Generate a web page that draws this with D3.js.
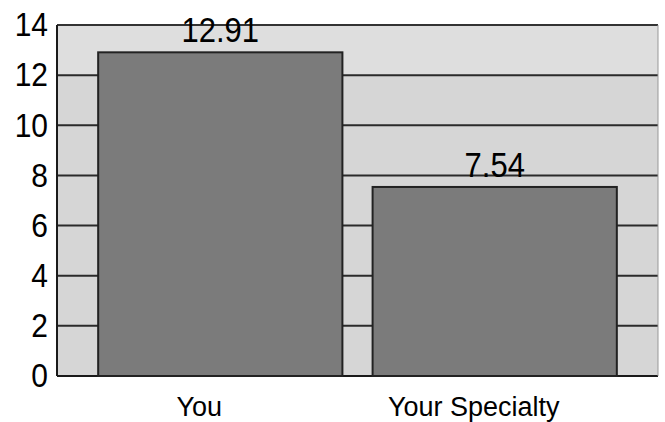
<!DOCTYPE html>
<html>
<head>
<meta charset="utf-8">
<script src="https://cdn.jsdelivr.net/npm/d3@7/dist/d3.min.js"></script>
<style>
  html, body { margin: 0; padding: 0; background: #fff; }
  svg { display: block; }
  text { font-family: "Liberation Sans", Arial, sans-serif; fill: #000; }
</style>
</head>
<body>
<svg id="chart" width="665" height="422"></svg>
<script>
const categories = ["You", "Your Specialty"];
const values = [12.91, 7.54];
const valueLabels = ["12.91", "7.54"];
const yTicks = [0, 2, 4, 6, 8, 10, 12, 14];

const W = 665, H = 422;
const m = { top: 25, right: 7, bottom: 46, left: 57 };
const svg = d3.select("#chart");

const x = d3.scaleBand()
  .domain(categories)
  .range([m.left, W - m.right])
  .paddingInner(0.11)
  .paddingOuter(0.15);

const y = d3.scaleLinear()
  .domain([0, 14])
  .range([H - m.bottom, m.top]);

// plot background
svg.append("rect")
  .attr("x", x.range()[0])
  .attr("y", y(14))
  .attr("width", x.range()[1] - x.range()[0])
  .attr("height", y(0) - y(14))
  .attr("fill", "#d6d6d6");
// lighter top band
svg.append("rect")
  .attr("x", x.range()[0])
  .attr("y", y(14))
  .attr("width", x.range()[1] - x.range()[0])
  .attr("height", y(12) - y(14))
  .attr("fill", "#dedede");

// gridlines
svg.append("g")
  .selectAll("line")
  .data(yTicks.filter(d => d > 0 && d < 14))
  .join("line")
  .attr("x1", x.range()[0])
  .attr("x2", x.range()[1])
  .attr("y1", d => y(d))
  .attr("y2", d => y(d))
  .attr("stroke", "#2a2a2a")
  .attr("stroke-width", 2);

// frame
svg.append("line")
  .attr("x1", x.range()[0]).attr("x2", x.range()[1])
  .attr("y1", y(14)).attr("y2", y(14))
  .attr("stroke", "#333").attr("stroke-width", 2);
svg.append("line")
  .attr("x1", x.range()[0]).attr("x2", x.range()[0])
  .attr("y1", y(14)).attr("y2", y(0))
  .attr("stroke", "#1a1a1a").attr("stroke-width", 2);
svg.append("line")
  .attr("x1", x.range()[0]).attr("x2", x.range()[1])
  .attr("y1", y(0)).attr("y2", y(0))
  .attr("stroke", "#1a1a1a").attr("stroke-width", 2);
svg.append("line")
  .attr("x1", x.range()[1]).attr("x2", x.range()[1])
  .attr("y1", y(14)).attr("y2", y(0))
  .attr("stroke", "#999").attr("stroke-width", 1);

// bars
svg.append("g")
  .selectAll("rect")
  .data(categories)
  .join("rect")
  .attr("x", d => x(d))
  .attr("y", (d, i) => y(values[i]))
  .attr("width", x.bandwidth())
  .attr("height", (d, i) => y(0) - y(values[i]))
  .attr("fill", "#7b7b7b")
  .attr("stroke", "#222")
  .attr("stroke-width", 2);

// value labels
svg.append("g")
  .selectAll("text")
  .data(categories)
  .join("text")
  .attr("transform", (d, i) => `translate(${x(d) + x.bandwidth() / 2},${y(values[i]) - 10}) scale(1,1.13)`)
  .attr("text-anchor", "middle")
  .style("font-size", "31px")
  .text((d, i) => valueLabels[i]);

// y axis
const yAxis = svg.append("g")
  .attr("transform", `translate(${m.left},0)`)
  .call(d3.axisLeft(y).tickValues(yTicks).tickSize(0).tickPadding(9).tickFormat(d3.format("d")));
yAxis.select(".domain").remove();
yAxis.selectAll("text")
  .style("font-size", "30px")
  .attr("fill", "#000")
  .attr("transform", "scale(1,1.12)");

// x axis
const xAxis = svg.append("g")
  .attr("transform", `translate(-21,${y(0)})`)
  .call(d3.axisBottom(x).tickSize(0).tickPadding(21));
xAxis.select(".domain").remove();
xAxis.selectAll("text").style("font-size", "27px").attr("fill", "#000");
</script>
</body>
</html>
